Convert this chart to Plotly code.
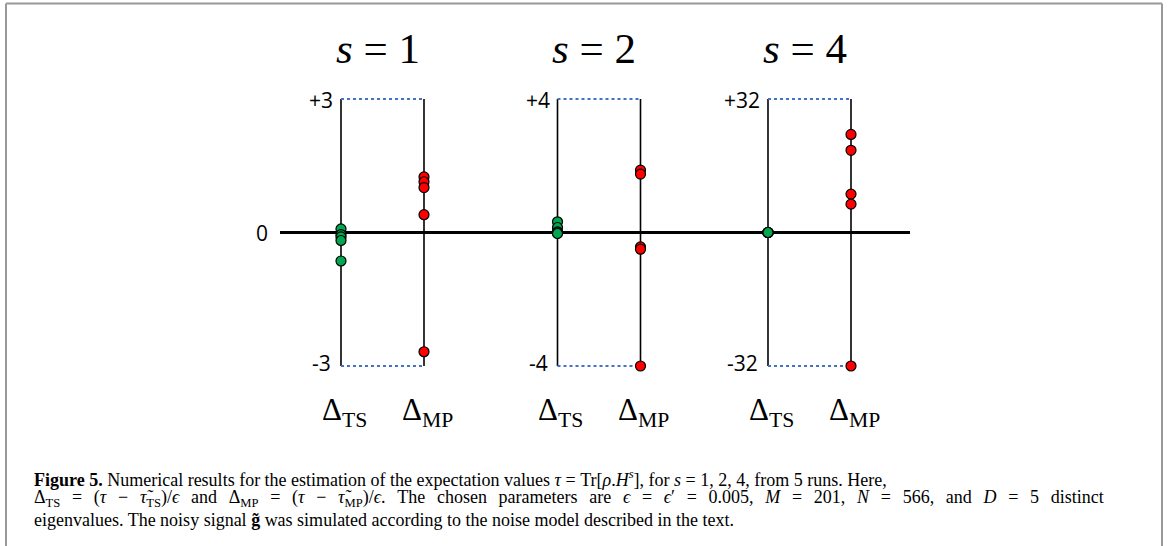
import plotly.graph_objects as go

# ---------------- data ----------------
s_values = [1, 2, 4]
scales = [3, 4, 32]
ts_runs = [
    [0.08, -0.05, -0.10, -0.18, -0.64],
    [0.32, 0.15, 0.02, -0.01, -0.03],
    [0.0, 0.0, 0.0, 0.0, 0.0],
]
mp_runs = [
    [1.25, 1.14, 1.01, 0.40, -2.68],
    [1.87, 1.75, -0.43, -0.50, -4.0],
    [23.5, 19.7, 9.2, 6.8, -32.0],
]
tick_top = ["+3", "+4", "+32"]
tick_bot = ["-3", "-4", "-32"]
method_labels = ["Δ<sub>TS</sub>", "Δ<sub>MP</sub>"]
caption_lines = [
    "<b>Figure 5.</b> Numerical results for the estimation of the expectation values <i>τ</i> = Tr[<i>ρ</i>.<i>H<sup>s</sup></i>], for <i>s</i> = 1, 2, 4, from 5 runs. Here,",
    "Δ<sub>TS</sub> = (<i>τ</i> − <i>τ̃</i><sub>TS</sub>)/<i>ϵ</i> and Δ<sub>MP</sub> = (<i>τ</i> − <i>τ̃</i><sub>MP</sub>)/<i>ϵ</i>. The chosen parameters are <i>ϵ</i> = <i>ϵ</i>′ = 0.005, <i>M</i> = 201, <i>N</i> = 566, and <i>D</i> = 5 distinct",
    "eigenvalues. The noisy signal <b>g̃</b> was simulated according to the noise model described in the text.",
]

# ---------------- layout geometry ----------------
W, H = 1168, 546
panel_center = [382.5, 599.0, 809.5]
half_gap = 41.5
top_px, bot_px = 99.0, 366.0
GREEN = "#00a650"
RED = "#ff0000"
BLUE = "#4472c4"
SERIF = "Liberation Serif"
SANS = "Open Sans"
JUSTIFY_GAP = "&#8201;&#8201; "  # widened word gap to mimic the justified caption line

fig = go.Figure()
shapes = []
annotations = []
layout_axes = {}

for i, (s, S) in enumerate(zip(s_values, scales)):
    span = 2 * S * H / (bot_px - top_px)
    hi = S + top_px / H * span
    lo = hi - span
    yname = "y" if i == 0 else f"y{i+1}"
    axkey = "yaxis" if i == 0 else f"yaxis{i+1}"
    ax = dict(range=[lo, hi], visible=False, fixedrange=True)
    if i > 0:
        ax["overlaying"] = "y"
    layout_axes[axkey] = ax

    xts = panel_center[i] - half_gap
    xmp = panel_center[i] + half_gap

    for xv in (xts, xmp):
        shapes.append(dict(type="line", xref="x", yref=yname, x0=xv, x1=xv,
                           y0=-S, y1=S, line=dict(color="black", width=1.6),
                           layer="below"))
    for yv in (S, -S):
        shapes.append(dict(type="line", xref="x", yref=yname, x0=xts, x1=xmp,
                           y0=yv, y1=yv, line=dict(color=BLUE, width=2.2, dash="dot"),
                           layer="below"))

    fig.add_trace(go.Scatter(
        x=[xts] * len(ts_runs[i]), y=ts_runs[i], yaxis=yname, mode="markers",
        marker=dict(size=10, color=GREEN, line=dict(color="black", width=1.2)),
        showlegend=False, hoverinfo="skip"))
    fig.add_trace(go.Scatter(
        x=[xmp] * len(mp_runs[i]), y=mp_runs[i], yaxis=yname, mode="markers",
        marker=dict(size=10, color=RED, line=dict(color="black", width=1.2)),
        showlegend=False, hoverinfo="skip"))

    annotations.append(dict(x=xts, y=S, xref="x", yref=yname, text=tick_top[i],
                            showarrow=False, xanchor="right", yanchor="middle",
                            xshift=-6, yshift=-1, font=dict(family=SANS, size=21, color="black")))
    annotations.append(dict(x=xts, y=-S, xref="x", yref=yname, text=tick_bot[i],
                            showarrow=False, xanchor="right", yanchor="middle",
                            xshift=-8, yshift=3, font=dict(family=SANS, size=21, color="black")))

    annotations.append(dict(x=panel_center[i], y=1 - 48 / H, xref="x", yref="paper",
                            text=f"<i>s</i> = {s}", showarrow=False, xanchor="center",
                            yanchor="middle", xshift=-5,
                            font=dict(family=SERIF, size=43, color="black")))
    for xv, lab in zip((xts, xmp), method_labels):
        annotations.append(dict(x=xv, y=1 - 412 / H, xref="x", yref="paper", text=lab,
                                showarrow=False, xanchor="center", yanchor="middle",
                                xshift=3, font=dict(family=SERIF, size=31, color="black")))

shapes.append(dict(type="line", xref="x", yref="y", x0=280, x1=910, y0=0, y1=0,
                   line=dict(color="black", width=3.2), layer="below"))
annotations.append(dict(x=280, y=0, xref="x", yref="y", text="0", showarrow=False,
                        xanchor="right", yanchor="middle", xshift=-10,
                        font=dict(family=SANS, size=21, color="black")))

# frame
for (x0, x1, y0, y1) in [(6, 1162, 3.5, 3.5), (6, 6, 3.5, H), (1162, 1162, 3.5, H)]:
    shapes.append(dict(type="line", xref="paper", yref="paper", x0=x0 / W, x1=x1 / W,
                       y0=1 - y0 / H, y1=1 - y1 / H, line=dict(color="#999999", width=2)))

# caption
for k, line in enumerate(caption_lines):
    txt = line.replace(" ", JUSTIFY_GAP) if k == 1 else line
    annotations.append(dict(x=32 / W, y=1 - (478 + 20.8 * k) / H, xref="paper", yref="paper",
                            text=txt, showarrow=False, xanchor="left", yanchor="middle",
                            align="left", font=dict(family=SERIF, size=18, color="black")))

fig.update_layout(
    width=W, height=H, margin=dict(l=0, r=0, t=0, b=0),
    paper_bgcolor="white", plot_bgcolor="white",
    xaxis=dict(range=[0, W], visible=False, fixedrange=True),
    shapes=shapes, annotations=annotations, showlegend=False,
    **layout_axes,
)

fig.write_html("out.html", config={"displayModeBar": False},
               post_script="document.body.style.margin='0';")
